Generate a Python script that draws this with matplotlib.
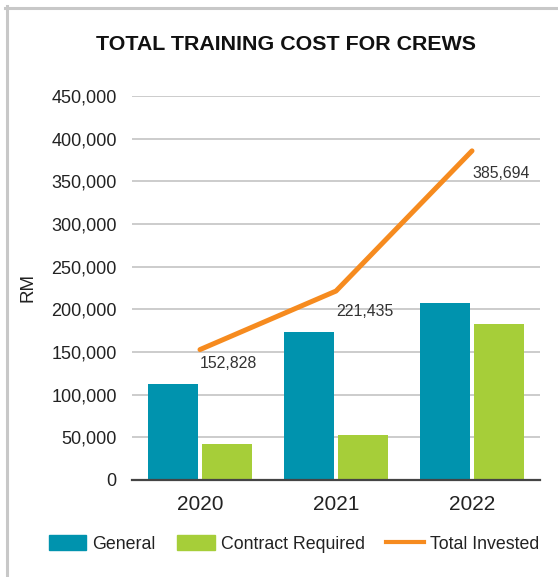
import numpy as np
import matplotlib
matplotlib.use("Agg")
import matplotlib.pyplot as plt
from matplotlib.lines import Line2D
from matplotlib.ticker import FuncFormatter

plt.rcParams['font.family'] = ['Liberation Sans', 'DejaVu Sans']

years = ['2020', '2021', '2022']
general = [112000, 173400, 207800]
contract = [42200, 52700, 183300]
total = [152828, 221435, 385694]

teal = '#0093ae'
green = '#a6ce39'
orange = '#f68b1f'

fig = plt.figure(figsize=(5.58, 5.77), dpi=100)
ax = fig.add_axes([132/558, 97/577, 408/558, 384/577])

x = np.arange(len(years))
w = 0.368
off = 0.202
ax.bar(x - off, general, w, color=teal, zorder=3)
ax.bar(x + off, contract, w, color=green, zorder=3)
ax.plot(x, total, color=orange, lw=3.6, solid_capstyle='round', zorder=4)

# value labels sit just below-right of each point on the line
drops = [14, 20, 23]
for xi, v, d in zip(x, total, drops):
    ax.annotate(f'{v:,}', (xi, v), xytext=(0, -d * 0.72), textcoords='offset points',
                ha='left', va='center', fontsize=11.4, color='#333333', zorder=5)

ax.set_xlim(-0.5, 2.5)
ax.set_ylim(0, 450000)
ax.set_yticks(np.arange(0, 450001, 50000))
ax.yaxis.set_major_formatter(FuncFormatter(lambda v, p: f'{int(v):,}'))
ax.set_xticks(x)
ax.set_xticklabels(years)
ax.grid(axis='y', color='#cccccc', lw=1.4, zorder=0)
ax.tick_params(axis='y', length=0, pad=11, labelsize=13, labelcolor='#222222')
ax.tick_params(axis='x', length=0, pad=11, labelsize=15, labelcolor='#222222')
for s in ['top', 'right', 'left']:
    ax.spines[s].set_visible(False)
ax.spines['bottom'].set_color('#444444')
ax.spines['bottom'].set_linewidth(1.6)
ax.spines['bottom'].set_zorder(5)

ax.set_ylabel('RM', fontsize=13.5, color='#222222')
ax.yaxis.set_label_coords(-96/408, 0.5)

fig.text(285.5/558, 1 - 45/577, 'TOTAL TRAINING COST FOR CREWS', ha='center', va='center',
         fontsize=15.4, fontweight='bold', color='#111111')

# light frame along the top and left edges
fig.add_artist(Line2D([5/558, 1], [1 - 7.5/577] * 2, color='#c8c8c8', lw=2.2))
fig.add_artist(Line2D([6.5/558] * 2, [0, 1 - 6/577], color='#c8c8c8', lw=2.2))

handles = [plt.Rectangle((0, 0), 1, 1, color=teal),
           plt.Rectangle((0, 0), 1, 1, color=green),
           Line2D([0], [0], color=orange, lw=3)]
fig.legend(handles, ['General', 'Contract Required', 'Total Invested'],
           loc='center', bbox_to_anchor=(294/558, 1 - 544/577), ncol=3, frameon=False,
           fontsize=12.8, handlelength=2.1, handleheight=0.95, handletextpad=0.35,
           columnspacing=1.2, labelcolor='#222222')

fig.savefig('out.png', dpi=100)
